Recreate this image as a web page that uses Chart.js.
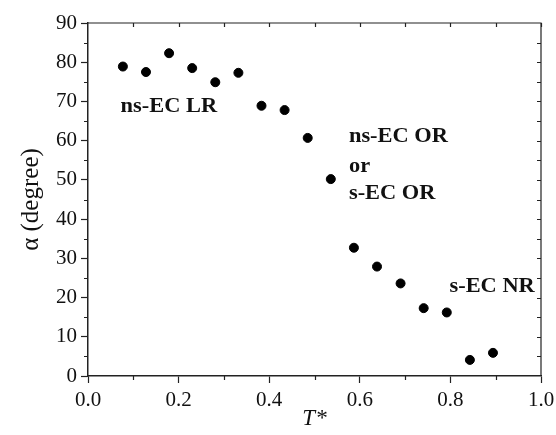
<!DOCTYPE html>
<html>
<head>
<meta charset="utf-8">
<script src="https://cdn.jsdelivr.net/npm/chart.js@4.4.1/dist/chart.umd.min.js"></script>
<style>
  html, body { margin: 0; padding: 0; background: #fff; }
  #wrap { width: 556px; height: 435px; position: relative; }
</style>
</head>
<body>
<div id="wrap"><canvas id="alphaChart"></canvas></div>
<script>
// alpha vs reduced temperature
const tStar = [0.077, 0.128, 0.179, 0.230, 0.281, 0.332, 0.383, 0.434, 0.485, 0.536,
               0.587, 0.638, 0.690, 0.741, 0.792, 0.843, 0.894];
const alpha = [78.9, 77.5, 82.3, 78.5, 74.9, 77.3, 68.9, 67.8, 60.7, 50.2,
               32.7, 27.9, 23.6, 17.3, 16.2, 4.1, 5.9];

const xTicks = [0, 0.2, 0.4, 0.6, 0.8, 1.0];
const yTicks = [0, 10, 20, 30, 40, 50, 60, 70, 80, 90];

// region labels, anchored in data units (left edge, vertical middle)
const regionText = ['ns-EC LR', 'ns-EC OR', 'or', 's-EC OR', 's-EC NR'];
const regionT = [0.072, 0.576, 0.576, 0.576, 0.798];
const regionA = [68.6, 60.9, 53.3, 46.4, 22.7];

const ink = '#222';
const serif = "'Liberation Serif', 'Times New Roman', serif";

// outward minor ticks on bottom/left, inward ticks on top/right
const frameTicks = {
  id: 'frameTicks',
  afterDraw(chart) {
    const { ctx, chartArea: a, scales: { x, y } } = chart;
    ctx.save();
    ctx.strokeStyle = ink;
    ctx.lineWidth = 1.2;
    ctx.beginPath();
    ctx.moveTo(a.left, a.top);
    ctx.lineTo(a.right, a.top);
    ctx.lineTo(a.right, a.bottom);
    for (let v = 0.1; v < 1; v += 0.2) {
      const px = Math.round(x.getPixelForValue(v)) + 0.5;
      ctx.moveTo(px, a.bottom);
      ctx.lineTo(px, a.bottom + 4);
    }
    for (let v = 5; v < 90; v += 10) {
      const py = Math.round(y.getPixelForValue(v)) + 0.5;
      ctx.moveTo(a.left, py);
      ctx.lineTo(a.left - 4, py);
    }
    for (let v = 0.1; v < 1; v += 0.1) {
      const px = Math.round(x.getPixelForValue(v)) + 0.5;
      ctx.moveTo(px, a.top);
      ctx.lineTo(px, a.top + 4);
    }
    for (let v = 5; v < 90; v += 5) {
      const py = Math.round(y.getPixelForValue(v)) + 0.5;
      ctx.moveTo(a.right, py);
      ctx.lineTo(a.right - 4, py);
    }
    ctx.stroke();

    // bold region names, slightly widened
    ctx.fillStyle = '#111';
    ctx.font = 'bold 20px ' + serif;
    ctx.textBaseline = 'middle';
    ctx.textAlign = 'left';
    regionText.forEach((t, i) => {
      const px = x.getPixelForValue(regionT[i]);
      const py = y.getPixelForValue(regionA[i]);
      ctx.save();
      ctx.translate(px, py);
      ctx.scale(1.12, 1);
      ctx.fillText(t, 0, 0);
      ctx.restore();
    });
    ctx.restore();
  }
};

new Chart(document.getElementById('alphaChart'), {
  type: 'scatter',
  data: {
    datasets: [{
      data: tStar.map((t, i) => ({ x: t, y: alpha[i] })),
      backgroundColor: '#000',
      borderColor: '#000',
      pointRadius: 4.5,
      pointHoverRadius: 4.5
    }]
  },
  options: {
    responsive: true,
    maintainAspectRatio: false,
    animation: false,
    layout: { padding: { top: 23, right: 15, left: 0, bottom: 0 } },
    plugins: { legend: { display: false }, tooltip: { enabled: false } },
    scales: {
      x: {
        type: 'linear',
        min: 0, max: 1,
        afterBuildTicks: s => { s.ticks = xTicks.map(v => ({ value: v })); },
        afterFit: s => { s.height = 59; s.paddingLeft = 0; s.paddingRight = 0; },
        ticks: {
          color: '#111',
          font: { family: serif, size: 21 },
          padding: 5,
          callback: v => v.toFixed(1)
        },
        grid: { drawOnChartArea: false, color: ink, tickLength: 7, tickWidth: 1.2 },
        border: { color: ink, width: 1.5 },
        title: {
          display: true,
          text: 'T*',
          color: '#111',
          font: { family: serif, size: 23, style: 'italic' },
          padding: { top: 0, bottom: 2 }
        }
      },
      y: {
        min: 0, max: 90,
        afterBuildTicks: s => { s.ticks = yTicks.map(v => ({ value: v })); },
        afterFit: s => { s.width = 88; s.paddingTop = 0; s.paddingBottom = 0; },
        ticks: {
          color: '#111',
          font: { family: serif, size: 21 },
          padding: 4
        },
        grid: { drawOnChartArea: false, color: ink, tickLength: 7, tickWidth: 1.2 },
        border: { color: ink, width: 1.5 },
        title: {
          display: true,
          text: 'α (degree)',
          color: '#111',
          font: { family: serif, size: 25 },
          padding: { top: 16, bottom: 0 }
        }
      }
    }
  },
  plugins: [frameTicks]
});
</script>
</body>
</html>
